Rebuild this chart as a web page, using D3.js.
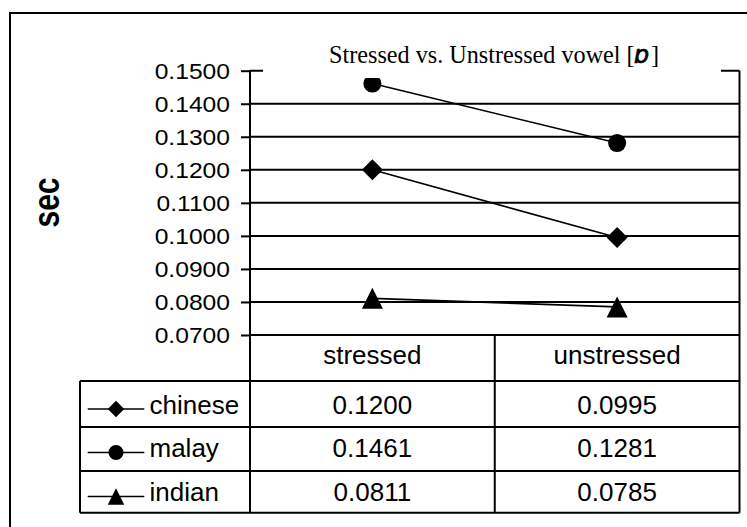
<!DOCTYPE html>
<html>
<head>
<meta charset="utf-8">
<script src="https://cdn.jsdelivr.net/npm/d3@7"></script>
<style>
  html, body { margin: 0; padding: 0; background: #fff; }
  svg { display: block; }
</style>
</head>
<body>
<svg id="chart" width="747" height="527"></svg>
<script>
// Vowel duration data (seconds)
const categories = ["stressed", "unstressed"];
const seriesNames = ["chinese", "malay", "indian"];
const seriesMarkers = ["diamond", "circle", "triangle"];
const chineseValues = [0.1200, 0.0995];
const malayValues = [0.1461, 0.1281];
const indianValues = [0.0811, 0.0785];
const yTicks = [0.07, 0.08, 0.09, 0.10, 0.11, 0.12, 0.13, 0.14, 0.15];
const titleText = "Stressed vs. Unstressed vowel [";
const titleSymbol = "\u0252";
const yAxisLabel = "sec";

const seriesValues = [chineseValues, malayValues, indianValues];
const series = seriesNames.map((name, i) => ({
  name, marker: seriesMarkers[i], values: seriesValues[i]
}));

const svg = d3.select("#chart");
const sans = "'Liberation Sans', Arial, sans-serif";

// Layout
const plotLeft = 250, plotRight = 739.5;
const tableLeft = 80;
const rowLines = [381, 427, 471, 512.7];      // header bottom, row separators, table bottom
const headerBaseline = 364;
const rowBaselines = [413.5, 457, 501];

const x = d3.scaleBand().domain(categories).range([plotLeft, plotRight]).paddingInner(0).paddingOuter(0);
const y = d3.scaleLinear().domain([0.07, 0.15]).range([335, 70.7]);
const tableBottom = rowLines[rowLines.length - 1];

// Outer chart frame
svg.append("rect")
  .attr("x", 10).attr("y", 13).attr("width", 800).attr("height", 600)
  .attr("fill", "none").attr("stroke", "#000").attr("stroke-width", 2);

// Horizontal gridlines
svg.append("g").selectAll("line").data(yTicks).join("line")
  .attr("x1", plotLeft).attr("x2", plotRight)
  .attr("y1", d => y(d)).attr("y2", d => y(d))
  .attr("stroke", "#000").attr("stroke-width", 2);

// Y axis with ticks
const axis = svg.append("g")
  .attr("transform", `translate(${plotLeft},0)`)
  .call(d3.axisLeft(y).tickValues(yTicks).tickSize(9).tickSizeOuter(0).tickFormat(d3.format(".4f")));
axis.select(".domain").remove();
axis.selectAll(".tick line").attr("stroke", "#000").attr("stroke-width", 2);
axis.selectAll(".tick text")
  .attr("font-family", sans).attr("font-size", 22).attr("fill", "#000")
  .attr("x", null).attr("dy", null)
  .attr("dominant-baseline", "central")
  .attr("text-anchor", "end")
  .attr("transform", "translate(-20,0) scale(1.12,1)");

// Vertical frame lines: left axis, right edge, category divider in table
const vlines = [
  [plotLeft, y(0.15), tableBottom],
  [plotRight, y(0.15), tableBottom],
  [x("unstressed"), y(0.07), tableBottom]
];
svg.append("g").selectAll("line").data(vlines).join("line")
  .attr("x1", d => d[0]).attr("x2", d => d[0])
  .attr("y1", d => d[1]).attr("y2", d => d[2])
  .attr("stroke", "#000").attr("stroke-width", 2);

// Data table horizontal lines and left edge
svg.append("g").selectAll("line").data(rowLines).join("line")
  .attr("x1", tableLeft).attr("x2", plotRight)
  .attr("y1", d => d).attr("y2", d => d)
  .attr("stroke", "#000").attr("stroke-width", 2);
svg.append("line")
  .attr("x1", tableLeft).attr("x2", tableLeft)
  .attr("y1", rowLines[0]).attr("y2", tableBottom)
  .attr("stroke", "#000").attr("stroke-width", 2);

// Marker shapes
function markerPath(type, cx, cy, s) {
  const h = s / 2;
  if (type === "diamond") {
    return `M${cx},${cy - h}L${cx + h},${cy}L${cx},${cy + h}L${cx - h},${cy}Z`;
  }
  if (type === "triangle") {
    return `M${cx},${cy - h}L${cx + h},${cy + h}L${cx - h},${cy + h}Z`;
  }
  const r = h * 0.86;
  return `M${cx - r},${cy}A${r},${r} 0 1,0 ${cx + r},${cy}A${r},${r} 0 1,0 ${cx - r},${cy}Z`;
}

const cx = c => x(c) + x.bandwidth() / 2;

// Series lines
const line = d3.line().x((d, i) => cx(categories[i])).y(d => y(d));
svg.append("g").selectAll("path").data(series).join("path")
  .attr("d", d => line(d.values))
  .attr("fill", "none").attr("stroke", "#000").attr("stroke-width", 1.6);

// Series markers
const markerSize = { diamond: 21, circle: 21, triangle: 21 };
series.forEach(s => {
  svg.append("g").selectAll("path").data(s.values).join("path")
    .attr("d", (v, i) => markerPath(s.marker, cx(categories[i]), y(v), markerSize[s.marker]))
    .attr("fill", "#000");
});

// Title box (sits over the top gridline)
svg.append("rect")
  .attr("x", 263).attr("y", 30).attr("width", 458).attr("height", 48)
  .attr("fill", "#fff");
const title = svg.append("text")
  .attr("x", 329).attr("y", 62.5)
  .attr("font-family", "'Liberation Serif', 'Times New Roman', serif")
  .attr("font-size", 24.2).attr("fill", "#000");
title.append("tspan").text(titleText);
title.append("tspan")
  .attr("font-family", "'DejaVu Sans', sans-serif")
  .attr("font-style", "italic").attr("font-size", 24)
  .attr("stroke", "#000").attr("stroke-width", 0.7)
  .text(titleSymbol);
title.append("tspan").attr("dx", 1).text("]");

// Y axis title
svg.append("text")
  .attr("transform", "translate(59,202.5) rotate(-90) scale(1,1.25)")
  .attr("text-anchor", "middle")
  .attr("font-family", sans).attr("font-weight", "bold").attr("font-size", 30)
  .attr("fill", "#000")
  .text(yAxisLabel);

// Table header
svg.append("g").selectAll("text").data(categories).join("text")
  .attr("x", d => cx(d)).attr("y", headerBaseline)
  .attr("text-anchor", "middle")
  .attr("font-family", sans).attr("font-size", 26).attr("fill", "#000")
  .text(d => d);

// Table rows: legend key + values
series.forEach((s, r) => {
  const base = rowBaselines[r];
  const my = base - 4.5;
  svg.append("line")
    .attr("x1", 87.7).attr("x2", 144.3).attr("y1", my).attr("y2", my)
    .attr("stroke", "#000").attr("stroke-width", 1.6);
  svg.append("path")
    .attr("d", markerPath(s.marker, 116, my, s.marker === "circle" ? 17.5 : 16.5))
    .attr("fill", "#000");
  svg.append("text")
    .attr("x", 149.5).attr("y", base)
    .attr("font-family", sans).attr("font-size", 26).attr("fill", "#000")
    .text(s.name);
  svg.append("g").selectAll("text").data(s.values).join("text")
    .attr("x", (v, i) => cx(categories[i])).attr("y", base)
    .attr("text-anchor", "middle")
    .attr("font-family", sans).attr("font-size", 26).attr("fill", "#000")
    .text(v => d3.format(".4f")(v));
});
</script>
</body>
</html>
